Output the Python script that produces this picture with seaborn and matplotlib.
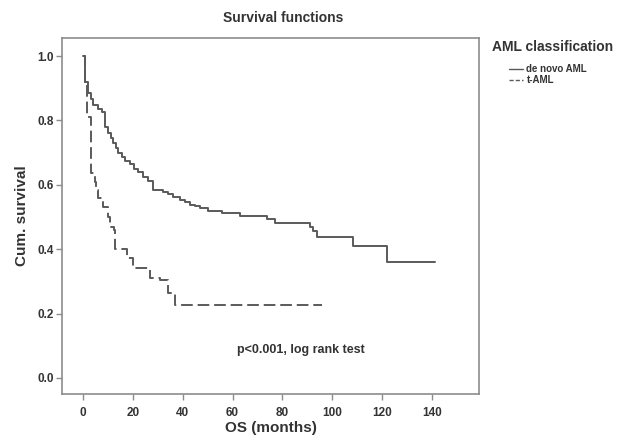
import matplotlib
matplotlib.use("Agg")
import matplotlib.pyplot as plt
import seaborn as sns
import pandas as pd
from matplotlib.lines import Line2D

# Kaplan-Meier step data (time in months, cumulative survival after step)
denovo_time = [0, 0.8, 2.1, 3.0, 4.1, 6.0, 7.5, 8.6, 10.0, 11.0, 12.0, 13.0, 14.0,
               15.5, 17.0, 19.0, 20.5, 22.0, 24.2, 26.0, 28.2, 32.2, 34.0, 36.2,
               39.0, 41.0, 43.0, 45.0, 47.0, 50.3, 55.6, 63.0, 74.0, 77.0, 91.0,
               92.5, 94.0, 108.2, 122.2, 141.2]
denovo_surv = [1.0, 0.92, 0.884, 0.866, 0.848, 0.835, 0.827, 0.78, 0.76, 0.745, 0.73,
               0.715, 0.70, 0.687, 0.675, 0.666, 0.65, 0.64, 0.625, 0.612, 0.584,
               0.579, 0.571, 0.563, 0.553, 0.546, 0.537, 0.533, 0.528, 0.52, 0.511,
               0.502, 0.495, 0.48, 0.468, 0.455, 0.437, 0.411, 0.359, 0.359]

taml_time = [0, 0.8, 1.5, 3.3, 4.8, 5.3, 6.1, 8.1, 10.1, 10.8, 12.2, 12.6, 12.9,
             17.5, 20.2, 26.9, 30.9, 34.2, 36.9, 96.0]
taml_surv = [1.0, 0.92, 0.81, 0.636, 0.61, 0.584, 0.558, 0.532, 0.50, 0.47, 0.46,
             0.43, 0.40, 0.372, 0.34, 0.31, 0.304, 0.263, 0.227, 0.227]

group_names = ["de novo AML", "t-AML"]
x_ticks = [0, 20, 40, 60, 80, 100, 120, 140]
y_ticks = [0.0, 0.2, 0.4, 0.6, 0.8, 1.0]

df = pd.concat([
    pd.DataFrame({"time": denovo_time, "surv": denovo_surv, "group": group_names[0]}),
    pd.DataFrame({"time": taml_time, "surv": taml_surv, "group": group_names[1]}),
], ignore_index=True)

sns.set_theme(style="white")
plt.rcParams["font.family"] = ["Liberation Sans", "DejaVu Sans"]

line_col = "#5a5a5a"
frame_col = "#8c8c8c"
text_col = "#333333"

fig = plt.figure(figsize=(6.21, 4.37), dpi=100)
ax = fig.add_axes([62 / 621, 1 - 394 / 437, (479 - 62) / 621, (394 - 38) / 437])

sns.lineplot(data=df, x="time", y="surv", hue="group", style="group",
             palette={group_names[0]: line_col, group_names[1]: line_col},
             dashes={group_names[0]: "", group_names[1]: (6, 2.5)},
             estimator=None, sort=False, drawstyle="steps-post",
             linewidth=1.4, legend=False, ax=ax)

ax.set_xlim(-8.5, 159)
ax.set_ylim(-0.05, 1.056)
ax.set_xticks(x_ticks)
ax.set_yticks(y_ticks)
ax.set_xticklabels([str(v) for v in x_ticks])
ax.set_yticklabels([f"{v:.1f}" for v in y_ticks])
for lab in ax.get_xticklabels() + ax.get_yticklabels():
    lab.set_fontweight("bold")
    lab.set_color(text_col)
ax.tick_params(axis="both", which="major", direction="out", length=4, width=1,
               color=frame_col, labelsize=8.5, bottom=True, left=True)
ax.tick_params(axis="x", pad=5)
ax.tick_params(axis="y", pad=2)
for sp in ax.spines.values():
    sp.set_color(frame_col)
    sp.set_linewidth(1.2)

ax.set_xlabel("OS (months)", fontsize=11, fontweight="bold", color=text_col, labelpad=2)
ax.set_ylabel("Cum. survival", fontsize=11, fontweight="bold", color=text_col, labelpad=6)

fig.text(283 / 621, 1 - 18 / 437, "Survival functions", fontsize=10, fontweight="bold",
         color=text_col, ha="center", va="center")

ax.text(87.4, 0.087, "p<0.001, log rank test", fontsize=9, fontweight="bold",
        color=text_col, ha="center", va="center")

# legend title and entries
fig.text(492 / 621, 1 - 47 / 437, "AML classification", fontsize=10, fontweight="bold",
         color=text_col, ha="left", va="center")
handles = [Line2D([], [], color=line_col, lw=1.0, ls="-"),
           Line2D([], [], color=line_col, lw=1.0, ls=(0, (3, 1.5)))]
leg = fig.legend(handles, group_names,
                 loc="upper left", bbox_to_anchor=(509 / 621, 1 - 64 / 437),
                 frameon=False, fontsize=7, handlelength=1.4, handletextpad=0.4,
                 labelspacing=0.1, borderaxespad=0, borderpad=0)
for t in leg.get_texts():
    t.set_fontweight("bold")
    t.set_color(text_col)

fig.savefig("out.png", dpi=100)
